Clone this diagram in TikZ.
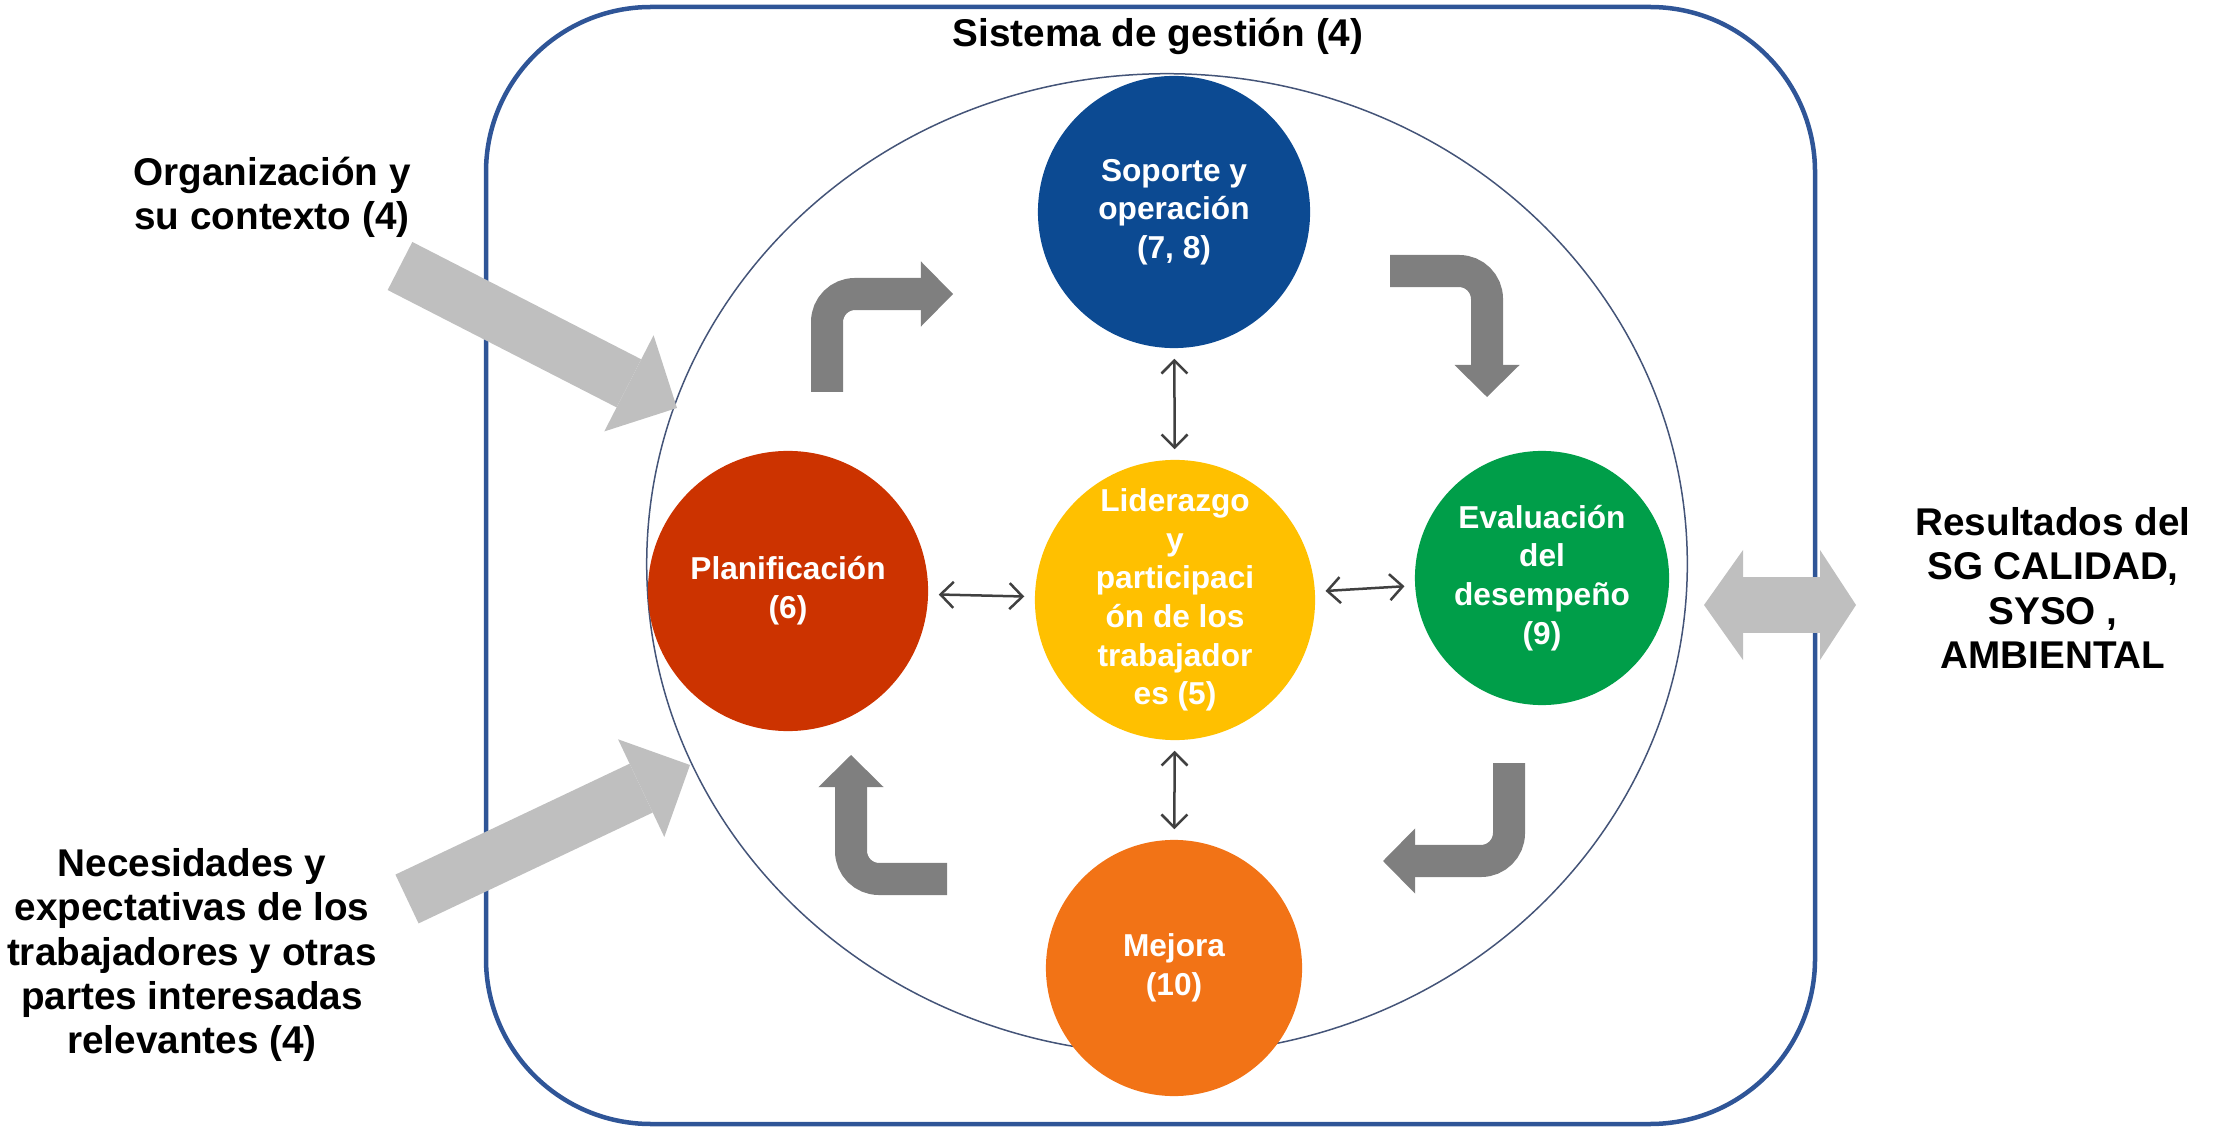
\documentclass[tikz,border=0pt]{standalone}
\usepackage{fontspec}
\setmainfont{Liberation Sans}
\usetikzlibrary{arrows.meta}

\definecolor{marco}{RGB}{47,85,151}
\definecolor{elipse}{RGB}{68,84,120}
\definecolor{azul}{RGB}{12,74,146}
\definecolor{rojo}{RGB}{204,51,0}
\definecolor{amarillo}{RGB}{255,192,0}
\definecolor{verde}{RGB}{0,158,73}
\definecolor{naranja}{RGB}{242,115,22}
\definecolor{ciclo}{RGB}{127,127,127}
\definecolor{grisclaro}{RGB}{191,191,191}
\definecolor{flecha}{RGB}{64,64,64}

\begin{document}
\begin{tikzpicture}
[x=0.01cm,y=-0.01cm,%
  every node/.style={align=center,font=\bfseries},%
  circ/.style={shape=circle,inner sep=0pt,text=white,font=\fontsize{9}{11}\selectfont\bfseries},%
  side/.style={font=\fontsize{11}{12.6}\selectfont\bfseries},%
  doble/.style={<->,>={Straight Barb[length=0.13cm,width=0.26cm]},line width=0.025cm,draw=flecha,shorten <=0.1cm,shorten >=0.1cm},%
  vuelta/.style={draw=ciclo,line width=0.32cm,rounded corners=0.28cm,-{Triangle[width=0.65cm,length=0.32cm,line width=0pt]}},%
  entrada/.style={draw=grisclaro,line width=0.54cm,-{Triangle[width=1.08cm,length=0.54cm,line width=0pt]}}]
\useasboundingbox (0,0) rectangle (2216,1128);
\draw[draw=marco,line width=0.045cm,rounded corners=1.65cm] (486,7) rectangle (1815,1124);
\draw[draw=elipse,line width=0.015cm] (1167,564) ellipse [x radius=5.2cm,y radius=4.9cm];
\node[side] (titulo) at (1158,36) {Sistema de gestión (4)};
\node[circ,fill=azul,minimum size=2.72cm] (sop) at (1174,212) {Soporte y\\operación\\(7, 8)};
\node[circ,fill=rojo,minimum size=2.8cm] (plan) at (788,591) {Planificación\\(6)};
\node[circ,fill=amarillo,minimum size=2.8cm] (lid) at (1175,600) {Liderazgo\\y\\participaci\\ón de los\\trabajador\\es (5)};
\node[circ,fill=verde,minimum size=2.54cm] (eva) at (1542,578) {Evaluación\\del\\desempeño\\(9)};
\node[circ,fill=naranja,minimum size=2.56cm] (mej) at (1174,968) {Mejora\\(10)};
\path
(sop) edge[doble] (lid)
(lid) edge[doble] (mej)
(plan) edge[doble] (lid)
(lid) edge[doble] (eva);
\draw[vuelta] (827,392) |- (953,294);
\draw[vuelta] (1390,271) -| (1487,397);
\draw[vuelta] (1509,763) |- (1383,861);
\draw[vuelta] (947,879) -| (851,755);
\node[side] (org) at (272,197) {Organización y\\su contexto (4)};
\node[side] (nec) at (192,955) {Necesidades y\\expectativas de los\\trabajadores y otras\\partes interesadas\\relevantes (4)};
\node[side] (res) at (2053,588) {Resultados del\\SG CALIDAD,\\SYSO ,\\AMBIENTAL};
\coordinate (orgcola) at (400,266);
\coordinate (orgpunta) at (677,408);
\coordinate (neccola) at (407,899);
\coordinate (necpunta) at (690,765);
\coordinate (resizq) at (1704,605);
\coordinate (resder) at (1856,605);
\draw[entrada] (orgcola) -- (orgpunta);
\draw[entrada] (neccola) -- (necpunta);
\draw[draw=grisclaro,line width=0.56cm,%
  {Triangle[width=1.1cm,length=0.39cm,line width=0pt]}-{Triangle[width=1.1cm,length=0.36cm,line width=0pt]}]
  (resizq) -- (resder);
\end{tikzpicture}
\end{document}
